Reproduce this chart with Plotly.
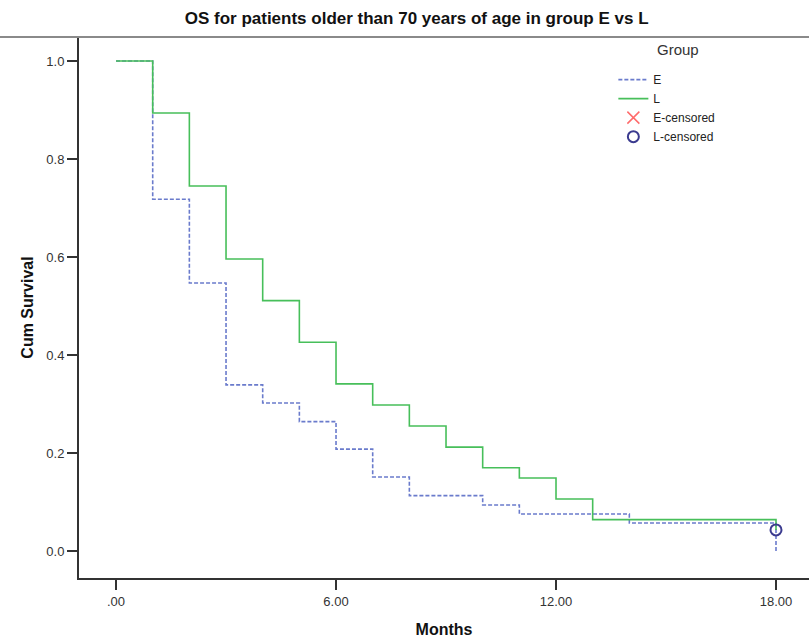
import plotly.graph_objects as go

# Kaplan-Meier step data
e_months = [0, 1, 2, 3, 4, 5, 6, 7, 8, 10, 11, 14, 18]
e_surv = [1.0, 0.718, 0.547, 0.339, 0.302, 0.264, 0.208, 0.151, 0.113, 0.094, 0.0755, 0.057, 0.0]

l_months = [0, 1, 2, 3, 4, 5, 6, 7, 8, 9, 10, 11, 12, 13, 18]
l_surv = [1.0, 0.894, 0.745, 0.596, 0.511, 0.426, 0.341, 0.298, 0.255, 0.212, 0.170, 0.149, 0.106, 0.064, 0.043]

l_cens_months = [18]
l_cens_surv = [0.043]

x_tickvals = [0, 6, 12, 18]
x_ticktext = [".00", "6.00", "12.00", "18.00"]
y_tickvals = [0.0, 0.2, 0.4, 0.6, 0.8, 1.0]

blue = "#6a7bcc"
green = "#47bf5a"
navy = "#3b3b8f"
red = "#ff6b6b"

fig = go.Figure()
fig.add_trace(go.Scatter(x=e_months, y=e_surv, mode="lines", line_shape="hv",
                         line=dict(color=blue, width=1.6, dash="4px,2px"), name="E"))
fig.add_trace(go.Scatter(x=l_months, y=l_surv, mode="lines", line_shape="hv",
                         line=dict(color=green, width=1.6), name="L"))
fig.add_trace(go.Scatter(x=[None], y=[None], mode="markers",
                         marker=dict(symbol="x-thin-open", size=12, line=dict(color=red, width=1.5), color=red),
                         name="E-censored"))
fig.add_trace(go.Scatter(x=l_cens_months, y=l_cens_surv, mode="markers",
                         marker=dict(symbol="circle-open", size=11, line=dict(color=navy, width=2), color=navy),
                         name="L-censored"))

fig.update_layout(
    width=809, height=639,
    margin=dict(l=79, r=0, t=37, b=61),
    paper_bgcolor="white", plot_bgcolor="white",
    font=dict(family="Liberation Sans, Arial, sans-serif", color="#222"),
    title=dict(text="<b>OS for patients older than 70 years of age in group E vs L</b>",
               x=0.515, xanchor="center", y=0.972, yanchor="middle",
               font=dict(size=17, color="#111")),
    showlegend=True,
    legend=dict(x=0.732, y=0.948, xanchor="left", yanchor="top",
                bgcolor="rgba(0,0,0,0)", font=dict(size=12, color="#222"),
                tracegroupgap=0, itemwidth=30),
    annotations=[dict(text="Group", xref="paper", yref="paper", x=0.82, y=(578 - 50) / 541,
                      xanchor="center", yanchor="middle", showarrow=False,
                      font=dict(size=15, color="#333"))],
    xaxis=dict(range=[-1.01, 18.9], tickvals=x_tickvals, ticktext=x_ticktext,
               showgrid=False, zeroline=False, showline=True, linecolor="#333", linewidth=2,
               ticks="outside", ticklen=10, tickwidth=2, tickcolor="#333",
               tickfont=dict(size=13, color="#333"), automargin=False,
               title=dict(text="<b>Months</b>", font=dict(size=16, color="#111"), standoff=16)),
    yaxis=dict(range=[-0.0551, 1.049], tickvals=y_tickvals, tickformat=".1f",
               showgrid=False, zeroline=False, showline=True, linecolor="#333", linewidth=2,
               ticks="outside", ticklen=10, tickwidth=2, tickcolor="#333",
               tickfont=dict(size=13, color="#333"), automargin=False,
               title=dict(text="<b>Cum Survival</b>", font=dict(size=16, color="#111"), standoff=9)),
    shapes=[dict(type="line", xref="paper", yref="paper", x0=-0.11, x1=1.0, y0=1.0, y1=1.0,
                 line=dict(color="#8a8a8a", width=2))],
)

fig.write_html("out.html", config={"displayModeBar": False},
               post_script="document.body.style.margin='0';")
